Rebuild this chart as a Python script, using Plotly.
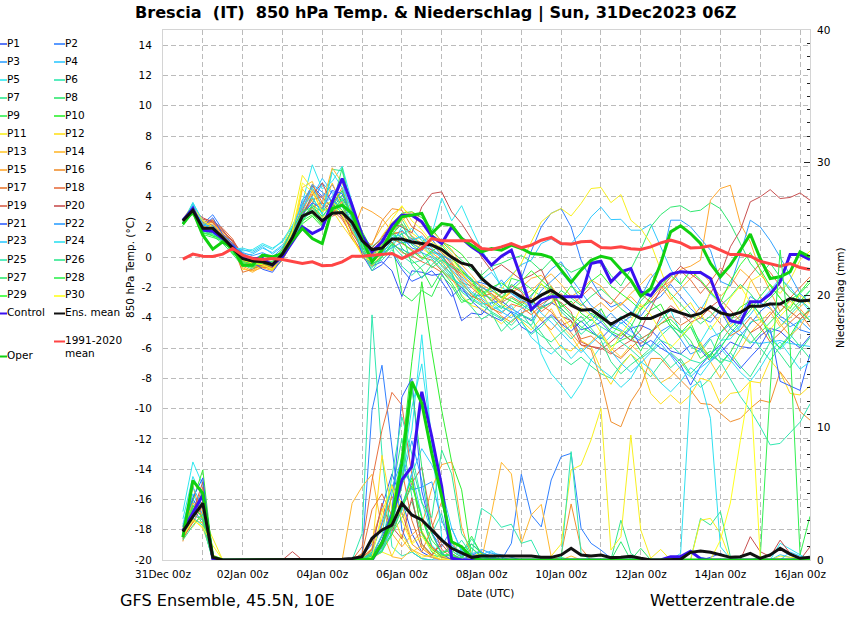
import pandas as pd
import plotly.graph_objects as go

# 6-hourly steps from 31Dec 12z to 16Jan 06z
times = pd.date_range("2023-12-31 12:00", periods=64, freq="6h")

ens_t = [2.4,3.1,1.9,1.9,1.3,0.6,-0.1,-0.25,-0.3,-0.5,
    0.2,1.3,2.7,3.0,2.4,2.9,2.95,2.3,1.1,0.5,
    0.6,1.2,1.2,1.0,0.9,0.8,0.5,0.0,-0.4,-0.55,
    -1.4,-1.96,-2.29,-2.22,-2.62,-2.95,-2.51,-2.18,-2.62,-3.17,
    -3.5,-3.46,-3.94,-4.43,-4.05,-3.72,-4.05,-4.05,-3.77,-3.46,
    -3.68,-3.9,-3.72,-3.28,-3.68,-3.83,-3.65,-3.24,-3.24,-3.1,
    -3.1,-2.73,-2.9,-2.84]
control_t = [2.44,3.21,1.78,1.71,1.23,0.68,0.02,-0.09,-0.09,-0.53,
    0.02,1.01,2.0,1.56,1.89,3.65,5.19,3.43,1.45,0.35,
    1.01,2.11,2.77,2.77,2.33,1.38,0.9,2.0,1.23,0.68,
    0.24,-0.53,0.06,0.46,-1.41,-3.46,-2.84,-2.62,-2.62,-2.67,
    -2.62,-0.42,-0.27,-1.63,-0.97,-0.75,-2.29,-2.55,-1.63,-1.12,
    -0.97,-1.01,-1.01,-1.41,-3.17,-4.2,-4.34,-2.95,-2.95,-2.45,
    -1.63,0.17,0.17,-0.16]
oper_t = [2.18,3.03,1.45,0.53,1.01,0.57,-0.53,-0.53,0.13,0.02,
    0.24,1.12,1.89,1.23,0.9,3.21,3.43,2.88,1.23,-0.31,
    0.46,1.78,2.66,2.77,2.88,1.56,2.22,2.11,1.23,0.79,
    0.35,0.57,0.46,0.79,0.57,0.24,0.17,-0.02,-0.86,-1.67,
    -0.86,-0.2,0.06,-0.09,-0.82,-1.52,-2.58,-2.07,-0.42,1.67,
    2.07,1.56,0.9,-0.42,-1.3,-0.53,0.46,1.52,-0.09,-1.41,
    -1.3,-0.97,0.35,0.02]
clim_t = [-0.13,0.2,0.06,0.04,0.2,0.57,0.13,-0.09,-0.16,-0.09,
    -0.16,-0.31,-0.42,-0.31,-0.57,-0.53,-0.31,0.06,0.06,0.13,
    0.2,0.24,-0.09,0.24,0.57,1.23,1.08,1.08,1.08,1.08,
    0.57,0.5,0.68,0.9,0.63,0.79,1.12,1.3,0.9,0.86,
    1.01,1.05,0.63,0.61,0.68,0.55,0.5,0.68,0.94,1.12,
    0.94,0.61,0.63,0.75,0.46,0.17,0.17,0.06,-0.27,-0.46,
    -0.6,-0.42,-0.68,-0.82]

ens_p = [2.14,3.27,4.28,0.2,0,0,0,0,0,0,
    0,0,0,0,0,0,0.05,0.12,0.25,1.64,
    2.27,2.64,4.28,3.4,3.02,2.27,1.5,0.88,0.55,0.2,
    0.3,0.3,0.3,0.3,0.3,0.3,0.2,0.2,0.38,0.88,
    0.38,0.3,0.38,0.18,0.2,0.28,0.13,0,0,0.05,
    0.05,0.58,0.68,0.58,0.38,0.2,0.25,0.5,0.13,0.38,
    0.88,0.45,0.13,0.2]
control_p = [2.2,3.6,4.9,0.1,0,0,0,0,0,0,
    0,0,0,0,0,0,0,0,0,0,
    1.26,3.27,6.04,7.05,12.7,9.31,5.54,0.13,0,0,
    0,0,0,0,0,0,0,0,0,0,
    0,0,0,0,0,0,0,0,0,0.25,
    0.25,0.65,0.1,0,0,0,0,0,0,0,
    0,0,0,0]
oper_p = [1.71,5.99,5.03,0.25,0,0,0,0,0,0,
    0,0,0,0,0,0,0,0,0,0.05,
    1.26,3.15,7.3,13.46,11.83,8.05,4.78,1.38,1.0,0.2,
    0,0,0,0,0,0,0,0,0,0,
    0,0,0,0,0,0,0,0,0,0,
    0,0,0,0,0,0,0,0,0,0,
    0,0,0,0]

p1_t = [2.3,3.3,1.8,1.9,1.5,0.7,-0.4,-0.5,-0.4,-0.7,
    0.1,1.2,3.1,4.7,4.0,4.8,3.6,2.1,0.5,-0.6,
    -0.3,-0.9,-2.6,-0.9,-1.0,-1.2,-1.1,-2.2,-4.2,-3.7,
    -3.8,-3.0,-2.9,-3.4,-3.8,-4.2,-3.3,-3.0,-3.4,-4.0,
    -4.8,-4.6,-4.3,-5.0,-5.4,-4.7,-4.5,-4.8,-5.5,-6.2,
    -6.4,-5.8,-6.1,-6.9,-6.3,-5.6,-5.9,-6.0,-5.2,-4.7,
    -4.9,-5.5,-6.0,-5.2]
p2_t = [2.5,3.0,2.2,2.8,1.8,0.8,0.0,-0.4,-0.2,-0.4,
    0.4,1.6,3.8,4.5,3.9,3.3,4.4,2.6,0.9,0.3,
    0.6,1.8,1.3,0.6,0.4,1.2,0.3,-0.4,-1.0,-1.6,
    -1.7,-1.9,-2.4,-2.0,-1.4,0.4,2.0,2.9,3.2,2.0,
    -0.2,-1.5,-2.6,-3.3,-3.0,-3.6,-3.9,-3.0,-2.6,-1.8,
    -2.6,-3.4,-4.0,-4.3,-3.5,-4.7,-5.2,-4.4,-3.6,-3.0,
    -3.9,-4.3,-4.8,-5.0]
p3_t = [2.4,3.4,2.0,2.1,1.4,0.9,0.3,-0.2,0.2,-0.2,
    0.5,1.8,3.0,3.5,4.9,4.2,3.4,2.7,1.0,0.0,
    0.1,0.8,0.5,0.2,0.3,0.0,-0.5,-1.1,-2.2,-2.6,
    -2.5,-2.7,-3.3,-3.6,-3.9,-2.6,-1.6,-0.8,-0.3,-1.4,
    -2.3,-3.2,-3.7,-4.4,-4.8,-5.2,-5.5,-5.9,-4.9,-4.5,
    -5.4,-6.4,-6.1,-5.3,-5.0,-4.4,-3.9,-2.6,-3.0,-3.4,
    -4.1,-4.6,-4.2,-4.8]
p4_t = [2.2,3.2,1.9,2.0,1.1,0.4,0.1,0.2,0.6,0.3,
    0.8,1.7,2.9,4.0,5.2,4.3,3.9,3.0,0.9,0.2,
    0.9,1.5,0.9,1.2,1.3,0.4,0.0,-0.6,-1.3,-1.8,
    -1.5,-1.0,-1.9,-1.2,-0.5,-0.2,0.9,1.2,0.8,0.9,
    1.6,2.66,3.3,2.48,2.5,1.78,1.78,2.18,0.68,-0.8,
    -1.8,-2.6,-3.5,-2.4,-3.1,-4.0,-4.9,-5.6,-5.7,-5.6,
    -5.5,-5.7,-5.8,-5.9]
p5_t = [2.3,3.6,2.3,1.7,1.2,0.7,0.4,0.5,0.9,0.6,
    1.0,2.0,3.6,6.1,4.5,5.0,6.0,3.6,0.6,0.1,
    0.4,0.8,2.0,1.4,0.8,1.5,3.9,2.4,3.4,1.9,
    0.5,-0.6,-2.0,-2.4,-2.9,-3.5,-6.36,-7.7,-8.45,-9.33,
    -8.34,-6.8,-5.9,-5.2,-4.3,-4.9,-5.4,-5.0,-4.2,-3.5,
    -5.0,-4.6,-5.6,-4.5,-5.5,-5.4,-4.6,-3.0,-3.8,-5.0,
    -6.1,-5.4,-4.2,-3.9]
p6_t = [2.2,3.1,1.6,1.6,1.2,0.4,-0.2,-0.5,-0.6,-0.8,
    0.0,1.3,2.4,3.2,2.6,3.6,2.9,1.8,0.4,-0.7,
    0.1,0.8,0.1,-0.4,-0.2,0.3,0.2,-0.9,-1.7,-1.9,
    -2.3,-3.5,-3.2,-3.7,-4.1,-4.5,-3.3,-2.6,-3.6,-4.2,
    -5.1,-4.5,-3.8,-4.6,-3.9,-4.4,-5.2,-6.0,-5.2,-4.6,
    -4.9,-5.9,-6.3,-5.4,-6.7,-6.9,-5.6,-4.3,-4.1,-5.0,
    -4.6,-3.8,-3.1,-2.2]
p7_t = [2.3,3.3,1.9,1.5,1.0,0.5,-0.5,-0.8,-0.4,-0.6,
    0.2,1.5,2.9,3.9,2.9,5.8,5.7,3.2,1.0,0.2,
    0.8,1.4,2.5,1.3,0.8,0.1,-0.3,-1.2,-2.3,-2.8,
    -3.2,-3.6,-4.0,-4.5,-3.8,-4.1,-5.0,-5.9,-6.6,-7.1,
    -6.6,-7.2,-7.7,-8.0,-7.1,-6.4,-7.3,-7.9,-7.0,-6.3,
    -6.9,-7.8,-8.6,-8.0,-7.1,-6.3,-7.2,-7.9,-6.8,-5.6,
    -6.4,-7.3,-6.2,-5.3]
p8_t = [2.1,3.0,1.7,1.7,1.3,0.5,0.0,-0.3,-0.1,-0.5,
    0.4,1.7,2.6,3.4,3.0,3.8,3.1,2.4,1.4,0.7,
    1.2,1.9,0.6,0.0,1.0,1.5,1.0,0.4,-0.2,-0.8,
    -1.2,-0.6,-0.4,-0.1,0.1,-0.3,-0.9,-0.2,-0.5,-1.0,
    -0.7,-0.3,-0.2,-1.2,-1.9,-0.8,0.5,2.0,2.8,3.3,
    3.4,3.0,3.1,3.6,3.2,2.2,0.9,-0.4,-1.2,-0.4,
    -1.3,-2.2,-2.8,-3.4]
p9_t = [2.3,3.2,2.0,1.9,1.4,0.6,-0.2,-0.6,-0.3,-0.7,
    0.3,1.4,2.7,2.9,2.1,2.9,3.5,2.8,1.2,-0.2,
    0.3,1.0,-2.4,-2.9,-2.2,-2.6,-1.2,-1.9,-3.0,-2.7,
    -1.9,-2.5,-3.1,-1.4,-1.6,-2.1,-2.6,-1.9,-3.4,-4.0,
    -4.6,-5.0,-5.3,-5.9,-5.5,-5.2,-6.2,-4.9,-4.4,-4.1,
    -4.8,-5.5,-6.7,-6.2,-7.0,-6.3,-5.1,-5.7,-5.0,-4.3,
    -3.6,-2.8,-2.4,-1.7]
p10_t = [2.4,2.8,1.8,1.6,1.2,0.3,-0.3,-0.7,-0.6,-0.8,
    -0.2,1.0,2.2,2.7,2.0,3.2,4.1,3.4,1.7,0.5,
    1.0,2.2,2.9,3.0,2.6,1.9,1.0,0.7,0.2,-0.6,
    -1.2,-2.2,-2.6,-2.9,-3.2,-2.5,-1.8,-2.2,-3.3,-2.9,
    -3.7,-4.2,-3.4,-4.6,-4.9,-5.5,-4.2,-3.5,-3.1,-4.4,
    -5.0,-4.3,-5.8,-6.6,-5.0,-4.2,-3.3,-2.9,-3.8,-5.4,
    -6.0,-5.2,-4.1,-3.4]
p11_t = [2.5,3.5,2.3,1.9,1.5,0.9,-0.4,-0.6,-0.7,-0.3,
    0.6,2.4,5.4,4.5,3.4,3.7,3.0,2.0,0.8,0.1,
    1.4,2.3,2.7,1.6,1.1,0.7,0.4,-0.3,-1.2,-1.7,
    -2.3,-2.8,-2.1,-1.3,-0.4,1.0,2.33,2.88,3.21,2.72,
    3.54,4.53,4.6,3.6,4.13,2.44,1.89,0.9,-0.8,-2.6,
    -3.6,-3.0,-4.1,-2.2,-3.2,-4.6,-3.8,-1.6,-1.2,-1.8,
    -2.4,-1.5,-0.2,0.4]
p12_t = [2.2,3.2,1.9,2.4,1.1,0.6,-0.8,-0.9,-0.5,-0.9,
    0.1,1.1,4.5,3.7,2.6,3.1,2.1,1.2,0.2,-0.4,
    0.4,1.7,1.5,0.9,0.6,0.1,-0.5,-1.4,-2.5,-3.2,
    -3.4,-3.9,-4.4,-3.8,-4.2,-4.8,-4.0,-5.0,-6.0,-6.2,
    -5.5,-5.9,-7.4,-8.4,-7.2,-6.4,-7.0,-9.0,-9.7,-9.1,
    -9.7,-9.1,-8.0,-8.2,-9.7,-9.0,-8.9,-8.2,-8.3,-6.8,
    -7.6,-9.0,-9.1,-8.5]
p13_t = [2.4,3.0,2.1,2.3,1.6,0.8,-0.5,-0.7,-0.4,-0.6,
    0.3,1.6,4.6,5.0,3.1,4.9,3.4,1.7,0.7,0.9,
    2.0,2.8,3.3,2.7,2.2,1.4,0.9,0.2,-0.8,-1.5,
    -1.9,-2.6,-3.1,-3.5,-2.9,-3.3,-4.2,-3.4,-4.5,-5.2,
    -6.2,-5.6,-4.9,-6.0,-6.6,-5.8,-6.4,-7.6,-8.3,-7.9,
    -7.2,-6.8,-5.6,-6.9,-8.0,-7.0,-6.1,-5.0,-4.3,-3.6,
    -4.6,-4.0,-3.3,-2.7]
p14_t = [2.3,3.1,2.0,2.2,1.4,0.5,-0.7,-1.0,-0.6,-0.8,
    0.0,1.4,3.3,4.2,3.5,5.9,4.9,2.9,0.0,-0.6,
    0.2,1.9,2.4,3.0,2.3,1.7,1.1,0.5,-0.5,-1.2,
    -2.0,-2.4,-2.9,-2.3,-2.6,-2.2,-1.6,-1.1,-1.8,-2.6,
    -2.2,-1.5,-1.9,-2.7,-3.2,-2.4,-1.8,-1.1,-1.9,-2.8,
    -2.1,-1.4,-0.9,-1.7,-2.6,-1.9,-0.8,-1.4,-2.6,-3.3,
    -4.4,-5.2,-4.6,-3.5]
p15_t = [2.4,3.2,2.2,2.5,1.7,1.0,-0.6,-0.9,-0.7,-0.9,
    -0.2,1.0,2.6,3.3,2.2,2.8,3.7,1.5,3.32,2.99,
    2.55,1.7,2.2,1.4,0.9,0.3,-0.2,-0.9,-1.8,-2.4,
    -1.8,-2.2,-2.7,-2.3,-2.0,-1.4,-1.2,-1.9,-2.8,-2.5,
    -3.1,-3.5,-3.0,-3.6,-3.1,-2.6,-3.3,-2.8,-2.0,-1.6,
    -0.8,-0.6,-0.2,3.76,4.53,4.75,2.22,1.0,-0.9,-2.2,
    -3.6,-2.9,-3.4,-4.2]
p16_t = [2.3,3.0,2.4,2.3,1.5,1.1,-0.2,-0.6,-0.4,-0.7,
    0.4,1.8,3.0,4.4,3.0,3.4,4.6,2.4,1.0,0.8,
    2.4,3.2,3.1,2.0,1.6,0.8,0.3,-0.5,-1.6,-2.5,
    -3.0,-3.3,-3.9,-4.3,-3.7,-3.4,-4.2,-4.8,-4.1,-5.0,
    -5.8,-6.1,-8.1,-10.87,-11.2,-9.55,-8.56,-6.69,-6.69,-7.46,
    -8.12,-8.78,-9.66,-9.73,-10.32,-10.87,-10.65,-9.99,-9.44,-9.6,
    -7.57,-8.45,-10.2,-10.76]
p17_t = [2.4,3.1,2.3,2.1,1.4,0.8,-1.0,-0.8,-0.5,-0.7,
    0.3,1.4,3.4,4.8,3.6,3.1,2.5,1.4,0.3,-0.2,
    0.5,1.2,0.9,0.5,0.0,-0.2,-0.9,-1.5,-2.0,-2.6,
    -2.8,-3.4,-3.7,-3.1,-3.3,-3.8,-3.2,-3.6,-4.5,-4.2,
    -5.4,-5.2,-5.8,-6.3,-6.7,-6.0,-5.4,-5.0,-4.4,-3.9,
    -4.5,-4.1,-3.3,-3.6,-4.4,-5.2,-4.8,-4.0,-4.6,-5.6,
    -5.0,-4.3,-3.7,-4.6]
p18_t = [2.5,3.2,2.1,2.4,1.9,1.2,0.0,-0.5,-0.7,-0.6,
    0.1,1.2,2.8,3.8,4.0,3.2,2.7,1.2,0.4,0.2,
    0.7,1.0,0.3,0.1,-0.3,-0.6,-1.0,-0.4,-1.4,-2.0,
    -2.6,-2.4,-3.0,-2.6,-3.0,-2.7,-3.6,-3.1,-2.4,-3.2,
    -2.6,-2.0,-2.7,-3.1,-2.3,-1.6,-2.4,-3.0,-2.3,-1.7,
    -0.9,-1.5,-2.4,-1.6,-0.7,-1.3,-2.1,-1.2,-0.4,-1.0,
    -1.9,-2.7,-2.0,-1.3]
p19_t = [2.3,3.0,2.5,2.4,1.8,1.0,0.1,-0.4,-0.3,-0.5,
    0.2,1.3,2.5,3.3,3.6,2.7,3.0,1.6,0.6,0.4,
    1.0,1.5,1.7,1.2,0.7,0.5,0.1,-0.7,-1.1,-1.8,
    -2.2,-2.9,-2.4,-1.9,-2.3,-3.4,-3.1,-2.7,-3.0,-3.6,
    -5.6,-5.9,-6.0,-6.4,-5.9,-5.5,-5.7,-5.2,-3.9,-3.2,
    -3.7,-4.3,-4.0,-3.3,-2.8,-3.5,-4.2,-5.0,-4.6,-3.8,
    -3.1,-3.6,-4.1,-3.5]
p20_t = [2.4,3.1,2.6,2.3,1.7,1.1,0.2,-0.6,-0.5,-0.4,
    0.3,1.4,2.7,4.1,4.9,3.5,2.6,2.0,1.0,0.6,
    1.3,2.2,2.0,1.6,3.32,4.2,4.31,2.99,2.22,1.2,
    0.0,-0.9,-0.5,-1.0,-1.5,-1.2,-0.8,-2.3,-3.9,-4.2,
    -5.8,-5.9,-6.1,-5.6,-5.0,-5.5,-4.8,-3.4,-2.1,-1.3,
    -0.6,-1.1,-1.6,-2.4,-1.2,0.68,1.78,3.65,3.98,4.46,
    3.87,3.94,4.24,3.76]
p21_t = [2.3,3.3,2.0,2.6,1.5,0.9,0.2,-0.3,-0.8,-1.0,
    -0.1,1.1,2.8,3.6,3.2,4.4,4.2,2.5,0.2,-0.9,
    -0.5,0.3,-0.8,-1.6,-1.3,-0.9,-1.6,-2.6,-2.0,-2.9,
    -3.5,-3.9,-4.2,-3.6,-4.6,-5.0,-4.4,-3.8,-4.4,-4.9,
    -4.2,-4.9,-5.4,-4.7,-4.1,-4.7,-5.9,-5.5,-6.0,-6.4,
    -7.1,-8.45,-7.2,-6.4,-5.8,-6.6,-7.35,-6.6,-5.9,-4.7,
    -8.2,-8.5,-8.8,-6.4]
p22_t = [2.4,3.4,2.1,2.1,1.3,0.8,0.3,0.1,0.3,0.0,
    0.6,1.9,3.5,4.8,4.3,3.7,3.3,2.9,0.7,0.0,
    0.3,0.6,1.0,0.9,0.5,0.9,0.1,-0.2,-0.7,-1.5,
    -2.0,-2.3,-1.5,-2.4,-2.8,-3.2,-2.2,-1.6,-1.0,-1.8,
    -2.9,-3.8,-4.3,-3.7,-4.4,-3.9,-2.6,-1.4,-0.6,2.44,
    2.44,2.0,1.23,0.46,-1.6,-1.9,0.2,2.44,2.0,1.1,
    0.0,-1.2,-2.4,-3.0]
p23_t = [2.2,3.5,2.2,1.8,1.1,0.6,0.5,0.3,0.7,0.2,
    0.7,1.5,3.2,4.6,3.4,4.0,5.1,2.3,0.4,-0.1,
    0.2,1.1,1.8,1.1,1.4,0.6,-0.1,-0.8,-1.5,-2.3,
    -2.7,-3.2,-3.6,-4.0,-3.4,-3.0,-3.7,-4.3,-5.0,-5.7,
    -6.3,-5.7,-5.1,-6.2,-7.0,-7.6,-7.0,-6.3,-5.7,-6.5,
    -7.4,-7.9,-7.3,-6.8,-5.9,-5.1,-4.5,-3.8,-2.9,-2.2,
    -1.4,-2.0,-2.8,-3.6]
p24_t = [2.3,3.6,2.4,1.6,1.0,0.5,0.6,0.4,0.8,0.5,
    1.1,2.1,3.4,4.0,2.8,5.6,4.6,3.1,0.8,0.3,
    0.7,1.3,1.5,1.9,1.1,0.2,-0.6,-1.3,-1.9,-2.7,
    -3.1,-3.0,-3.6,-3.2,-4.2,-5.3,-5.9,-6.4,-5.8,-6.7,
    -6.0,-6.8,-7.4,-7.9,-8.6,-8.0,-6.9,-7.4,-8.3,-8.9,
    -8.2,-7.3,-7.8,-6.9,-6.0,-6.8,-7.6,-8.2,-7.3,-6.2,
    -5.6,-6.5,-7.4,-6.9]
p25_t = [2.2,3.1,1.7,1.8,1.0,0.4,0.0,-0.2,-0.1,-0.6,
    0.1,1.3,2.5,3.0,3.2,3.0,3.8,2.2,0.9,-0.4,
    -0.2,0.5,-0.6,-1.2,-0.6,-0.1,-0.8,-1.4,-1.8,-2.4,
    -2.9,-3.7,-4.1,-4.8,-4.3,-5.1,-4.6,-3.9,-4.7,-5.4,
    -4.7,-4.1,-4.6,-5.0,-5.6,-6.1,-6.7,-6.2,-5.5,-5.8,
    -6.4,-6.8,-7.0,-6.5,-6.9,-8.1,-9.2,-10.1,-11.2,-12.4,
    -12.3,-11.6,-10.9,-9.7]
p26_t = [2.1,3.0,1.6,1.5,1.1,0.3,-0.4,-0.7,-0.2,-0.4,
    0.2,1.1,2.3,3.5,2.4,2.8,3.4,2.0,0.6,-0.9,
    0.0,0.7,1.6,-0.5,-1.4,-0.5,0.1,-1.0,-2.6,-3.3,
    -4.1,-3.7,-4.9,-4.2,-3.7,-4.6,-5.2,-5.6,-5.0,-4.5,
    -3.9,-4.7,-5.5,-6.9,-7.7,-7.1,-6.6,-6.0,-6.5,-7.3,
    -6.7,-7.7,-7.0,-6.4,-5.6,-4.7,-4.1,-5.0,-6.0,-6.8,
    -5.9,-5.1,-5.9,-6.7]
p27_t = [2.3,3.2,1.8,1.4,0.9,0.2,-0.6,-0.6,-0.3,-0.5,
    0.3,1.6,2.8,3.1,2.3,3.3,5.9,3.0,1.3,0.2,
    0.5,1.5,2.2,0.8,0.3,-0.7,-0.2,-0.6,-1.0,-1.4,
    -2.4,-2.0,-2.7,-1.8,-2.2,-2.9,-3.4,-3.0,-2.2,-2.7,
    -3.2,-2.6,-2.1,-2.7,-3.4,-3.9,-2.9,-2.2,-1.7,-2.4,
    -3.1,-3.8,-4.4,-3.9,-3.2,-2.6,-1.8,-2.4,-3.3,-2.7,
    -2.0,-2.7,-3.6,-4.2]
p28_t = [2.2,3.1,1.5,1.3,1.1,0.4,-0.3,-0.4,-0.2,-0.3,
    0.5,1.9,3.0,3.3,2.7,3.5,4.4,2.6,0.7,-0.5,
    0.0,0.9,0.4,-0.2,-0.8,-2.0,-0.9,-1.7,-2.8,-3.1,
    -2.1,-2.9,-3.4,-2.7,-3.1,-3.6,-2.9,-2.4,-3.1,-3.8,
    -4.3,-3.7,-4.1,-4.9,-5.2,-4.6,-3.4,-2.9,-3.6,-4.6,
    -5.3,-4.6,-6.0,-6.7,-6.0,-5.0,-4.3,-3.5,-2.6,-1.8,
    -2.7,-3.6,-2.9,-2.2]
p29_t = [2.1,3.1,1.6,1.4,1.2,0.2,-0.1,-0.5,-0.4,-0.6,
    0.0,1.2,2.4,2.8,2.2,3.0,3.9,2.7,1.5,0.4,
    0.8,1.6,1.0,0.4,-0.1,0.4,0.8,0.0,-0.9,-1.5,
    -2.6,-2.0,-1.7,-2.2,-1.6,-0.9,-1.5,-2.1,-2.8,-1.9,
    -2.5,-1.6,-1.1,-1.9,-2.4,-2.9,-3.5,-2.6,-1.9,-1.2,
    -1.8,-0.9,-1.5,-2.3,-3.0,-1.6,-0.5,0.3,-0.8,-1.9,
    -2.7,-3.4,-2.3,-1.5]
p30_t = [2.4,3.3,2.4,2.0,1.3,0.7,-0.2,-0.4,-0.5,-0.8,
    0.2,1.7,4.9,4.3,3.0,3.4,2.8,1.3,0.1,-0.3,
    0.9,2.5,3.4,2.4,1.8,1.0,0.6,-0.1,-1.0,-1.9,
    -2.5,-3.3,-2.8,-2.2,-2.7,-3.0,-1.7,-2.6,-3.8,-4.7,
    -3.3,-3.9,-5.0,-6.2,-5.1,-4.2,-3.1,-3.8,-4.9,-6.0,
    -5.3,-4.5,-3.7,-4.8,-3.9,-2.7,-1.9,-3.0,-4.2,-4.8,
    -3.9,-3.2,-2.5,-3.1]

p1_p = [2.2,4.6,3.4,0.1,0,0,0,0,0,0,
    0,0,0,0,0,0,0,0,0.3,1.2,
    4.0,6.5,4.5,2.0,0.6,0.2,0,0.1,0.4,0.2,
    0,0.2,0,0,0,0,0,0,0,0,
    0,0,0,0,0,0,0,0,0,0,
    0,0,0,0.2,0.5,0.1,0,0,0,0,
    0,0,0,0]
p2_p = [1.8,3.8,4.8,0,0,0,0,0,0,0,
    0,0,0,0,0,0,0,0,0.4,11.3,
    14.7,8.55,2.3,0.6,0.1,0,0,0,0.8,1.2,
    0.6,0.2,0,1.26,6.47,3.4,2.5,6.04,7.8,8.05,
    2.4,1.26,0.75,0.13,0,0,0,0,0,0,
    0,0,0,0,0,0,0,0,0,0,
    0,0,0,0]
p3_p = [2.0,4.4,3.9,0.2,0,0,0,0,0,0,
    0,0,0,0,0,0,0,0,0,0.5,
    1.2,3.0,6.0,9.0,6.0,2.0,1.0,2.4,0.7,0.3,
    0.8,0.5,0.4,0.2,0,0,0,0,0,0,
    0,0,0,0,0,0,0,0,0,0,
    0,0,0,0,0,0,0,0,0,0,
    0,0,0,0]
p4_p = [2.5,5.0,3.4,0,0,0,0,0,0,0,
    0,0,0,0,0,0,0,0,0,0.2,
    0.6,2.1,4.0,6.6,3.3,1.1,0.4,0.3,0.8,0.2,
    0.1,0.6,0,0,0,0,0,0,0,0,
    0,0,0,0,0,0,0,0,0,0,
    0.1,0.5,0.2,0,0,0,0,0,0,0,
    0.4,0.2,0,0]
p5_p = [3.65,7.4,5.66,0.1,0,0,0,0,0,0,
    0,0,0,0,0,0,0,0,0,0.1,
    0.7,2.6,6.2,9.8,17.0,8.8,1.7,0.3,0,0,
    0.2,0,0,0,0,0,0,0,0,0,
    0,0,0,0,0,0,0,0,0,0,
    0,0,0,0,0,0,0,0,0,0,
    1.26,0.8,0.4,0]
p6_p = [1.6,3.4,3.0,0,0,0,0,0,0,0,
    0,0,0,0,0,0,0,0,2.0,18.5,
    8.0,1.0,0.3,0.6,0.1,0,0.5,1.1,0.6,0.2,
    0,0,0,0,0,0,0,0,0,0,
    0,0,0,0,0,0,0,0,0,0,
    0,0,0,0,0,0,0,0,0,0,
    0,0,0,0]
p7_p = [2.3,4.2,3.1,0,0,0,0,0,0,0,
    0,0,0,0,0,0,0,0,0.1,0.3,
    1.1,5.0,9.2,4.8,1.2,0.4,0.2,0.1,0.2,1.6,
    0.5,0.2,0,0,0,0,0,0,0,0,
    0,0,0,0,3.0,0.5,0,0,0,0,
    0,0,3.14,2.64,3.65,0.25,0,0,0,0,
    0,0,0,0]
p8_p = [1.9,3.3,5.0,0.1,0,0,0,0,0,0,
    0,0,0,0,0,0,0,0,0,0.3,
    0.9,2.0,3.2,4.4,2.0,0.6,0.2,0.4,0,0,
    0.4,0,0,0,0,0,0,0.1,0.2,0,
    0,0,0,0,1.38,0,0.88,0,0,0,
    0,0,0,0,0,0,0,0,0,0,
    0,0,0,0]
p9_p = [2.1,3.9,2.7,0,0,0,0,0,0,0,
    0,0,0,0,0,0,0,0,0.2,0.4,
    1.4,3.4,6.6,5.9,3.2,1.0,0.4,1.0,0.5,1.8,
    0.4,0.3,0,0,0,0,0,0,0,0,
    0,0,0,0,0,0,0,0,0,0,
    0,0,0,0,0,0,0,0,0,0,
    0,0,0,0]
p10_p = [2.6,4.5,6.8,0.2,0,0,0,0,0,0,
    0,0,0,0,0,0,0,0,0,0.2,
    1.5,3.8,8.0,15.0,21.0,15.8,11.3,7.4,5.3,0.25,
    0,0,0,0,0,0,0,0,0,0,
    0,0,0,0,0,0,0,0,0,0,
    0,0,0,0,0,0,0,0,0,0,
    0,0,0,0]
p11_p = [1.8,2.8,3.3,1.7,0,0,0,0,0,0,
    0,0,0,0,0,0,0,0,0,0.1,
    0.6,0.3,1.9,0.8,0.2,0.4,0,0,0.1,0,
    0,0,0,0,0,0,0,0.3,1.2,6.8,
    7.17,9.06,11.45,0.75,1.76,9.43,2.26,0.13,0.8,0,
    0,0,3.0,3.14,2.0,0,0,0,0,0,
    0.3,0.2,0.1,0]
p12_p = [1.5,3.1,2.4,0.3,0,0,0,0,0,0,
    0,0,0,0,0,0,0,0,0.2,0.9,
    7.9,3.8,1.6,0.6,1.1,0.3,0,0,0,0.3,
    0.5,0.1,0,0,0,0,0,0,0,0,
    0,0,0,0,0,0,0,0,0,0,
    0,0,0,0,0,0,0,0,0,0,
    0,0,0,0]
p13_p = [2.0,2.5,3.6,0.4,0,0,0,0,0,0,
    0,0,0,0,0,0,0,0,0.1,0.7,
    3.1,5.7,4.2,1.3,2.2,0.9,0.3,0.1,0,0,
    0,0,0,0,0,0,0,0,0,0,
    0,0,0,0,0,0,0,0,0,0,
    0,0,0,0,0,0,0,0,0,0,
    0,0,0,0]
p14_p = [1.7,3.0,2.8,0,0,0,0,0,0,0,
    0,0,0,0,0,0,0,4.28,5.53,6.47,
    2.3,0.25,0.1,0.8,0.4,0.2,0,0,0,0,
    0,3.5,7.37,6.5,1.26,3.4,4.2,0.25,0,0.3,
    0,0,0,0,0,0,0,0,0,0,
    0,0,0,0,0,0,0,0,0,0,
    0,0,0,0]
p15_p = [2.4,4.3,3.7,0.1,0,0,0,0,0,0,
    0,0,0,0,0,0,0,0,0.4,1.6,
    3.9,2.0,1.0,1.9,2.6,5.4,7.2,7.4,2.5,0.3,
    0,0,0,0,0,0,0,0,0,0,
    0,0,0,0,0,0,0,0,0,0,
    0,0,0,0,0,0,0,0,0,0,
    0,0,0,0]
p16_p = [1.4,5.6,2.9,0,0,0,0,0,0,0,
    0,0,0,0,0,0,0,0,0,0.8,
    2.6,4.8,3.6,1.2,0.6,2.4,4.4,1.4,0.2,0,
    0,0,0,0,0,0,0,0,0.4,4.23,
    0.88,0,0,0,0,0,0,0,0,0,
    0,0,0,0,0,0,0,0,0,0,
    0,0,0,0]
p17_p = [1.9,4.0,4.4,0.1,0,0,0,0,0,0,
    0,0,0,0,0,0,0,0,0.5,3.8,
    5.0,3.3,6.8,3.0,0.9,0.3,1.5,0.5,0,0,
    0,0,0,0,0,0,0,0,0,0,
    0,0,0,0,0,0,0,0,0,0,
    0,0,0,0,0,0,0,0,0,0,
    0,0,0,0]
p18_p = [2.2,3.5,5.5,0,0,0,0,0,0,0,
    0,0,0,0,0,0,0,0,1.0,6.0,
    9.8,12.65,11.7,6.4,2.0,1.0,0.2,0,0,0,
    0,0,0,0,0,0,0,0,0,0,
    0,0,0,0,0,0,0,0,0,0,
    0,0,0,0,0,0,0,0,0,0,
    0,0,0,0]
p19_p = [1.6,2.9,4.1,0.2,0,0,0,0,0,0,
    0,0,0,0,0,0,0,0,0.2,0.8,
    4.3,2.2,3.9,5.8,7.0,2.8,0.8,0.2,0,0,
    0,0,0,0,0,0,0,0,0,0,
    0,0,0,0,0,0,0,0,0,0,
    0,0,0,0,0,0,0,0,0,0,
    0,0,0,0]
p20_p = [2.0,3.6,5.9,0.1,0,0,0,0,0,0,
    0,0.63,0,0,0,0,0,0,0,0.4,
    1.0,2.5,1.6,4.7,1.2,0.4,1.2,0.3,0,0,
    0,0,0,0,0,0,0,0,0,0,
    0,0,0,0,0,0,0,0,0,0,
    0,0,0,0,0,0,0,1.76,0.63,0.25,
    1.5,0.5,0,1.0]
p21_p = [2.5,4.7,6.2,0,0,0,0,0,0,0,
    0,0,0,0,0,0,0,0,0,0.3,
    1.8,3.6,12.3,13.7,5.2,2.1,0.5,0,0,0.4,
    0.3,0.1,0,0,0,0,0,0,0,0,
    0,0,0,0,0,0,0,0,0,0,
    0,0,0,0,0,0,0,0,0,0,
    0,0,0,0]
p22_p = [1.9,3.7,3.0,0,0,0,0,0,0,0,
    0,0,0,0,0,0,0,0,0,0.6,
    2.8,5.4,7.6,5.3,5.5,5.9,3.0,1.2,0.3,0.5,
    0.6,0.2,0,0,0,0,0,0,0,0,
    0,0,0,0,0,0,0,0,0,0,
    0,0,0,0,0,0,0,0,0,0,
    0,0,0,0]
p23_p = [2.7,5.5,4.0,0.1,0,0,0,0,0,0,
    0,0,0,0,0,0,0,0,0,0.1,
    0.8,2.4,3.7,6.5,8.4,7.2,5.4,2.4,0.6,0.2,
    0.4,0.7,0.2,0,0,0,0,0,0,0,
    0,0,0,0,0,0,0,0,0,0,
    0,0,0,0,0,0,0,0,0,0,
    0,0.6,0.3,0]
p24_p = [3.1,6.3,4.7,0,0,0,0,0,0,0,
    0,0,0,0,0,0,0,0,0,0.2,
    1.3,3.1,6.4,11.5,14.8,9.0,4.5,1.0,0.2,0,
    0,0,0,0,0,0,0,0,0,0,
    0,0,0,0,0,0,0,0,0,0,
    0.5,13.0,13.5,10.7,1.0,0.1,0,0,0,0,
    0,0,0,0]
p25_p = [2.2,3.2,2.6,0,0,0,0,0,0,0,
    0,0,0,0,0,0,0,0,0,0.4,
    1.9,6.3,10.8,8.0,4.4,2.0,3.5,0.5,1.5,0.4,
    3.9,3.4,2.47,2.7,1.26,1.5,0,0,0,8.18,
    0.5,0,0,0,0,0,0,0,0,0,
    0,0,0,0,0,0,0,0,0,0,
    0,0,0,0]
p26_p = [1.5,2.6,3.5,0,0,0,0,0,0,0,
    0,0,0,0,0,0,0,0,0,0.2,
    0.6,2.9,5.7,7.2,4.3,3.2,8.3,6.5,2.0,0.9,
    0.2,0,0,0,0,0,0,0,0,0,
    0,0,0,0,0,0,0,0,0,0,
    0,0,0,0,0,0,0,0,0,0,
    0,0,0,0]
p27_p = [1.7,3.9,4.3,0,0,0,0,0,0,0,
    0,0,0,0,0,0,0,0,0.1,0.6,
    1.0,2.7,5.6,13.0,7.0,2.0,0.4,0.3,0.1,0.9,
    0.3,0,0,0,0,0,0,0,0,0,
    0,0,0,0,0,0,0,0,0,0,
    0,0,0,0,0,0,0,0,0,0,
    0,0,0,0]
p28_p = [2.4,3.4,5.2,0,0,0,0,0,0,0,
    0,0,0,0,0,0,0,0,0,0.2,
    0.7,1.9,3.9,5.6,3.2,1.5,0.6,0.7,0.2,1.2,
    0.5,0,0,0,0,0,0,0,0,0,
    0,0,0,0,0,0,0,0,0,0,
    0,0,0,0,0,0,0,0,0.2,12.9,
    23.4,16.2,0.4,3.3]
p29_p = [2.0,4.1,3.2,0,0,0,0,0,0,0,
    0,0,0,0,0,0,0,0,0,0.3,
    1.4,2.4,4.1,6.2,2.1,0.8,0.3,0.5,0,0,
    0,0,0,0,0,0,0,0,0,0,
    0,0,0,0,0,0,0,0,0,0,
    0,0,0,0,0,0,0,0,0,0,
    0,0,0,0]
p30_p = [1.8,3.0,2.5,1.1,0,0,0,0,0,0,
    0,0,0,0,0,0,0,0,0,0.2,
    3.6,5.6,3.0,1.2,1.8,0.7,0.1,0,0,0,
    0,0,0,0,0,0,0,0,0,0,
    0,0,0,0,0,0,0,0,0,0,
    0,0,0,0,1.5,4.3,9.0,13.5,0.25,0,
    0,0,0,0]

member_t = [p1_t,p2_t,p3_t,p4_t,p5_t,p6_t,p7_t,p8_t,p9_t,p10_t,p11_t,p12_t,p13_t,p14_t,p15_t,
    p16_t,p17_t,p18_t,p19_t,p20_t,p21_t,p22_t,p23_t,p24_t,p25_t,p26_t,p27_t,p28_t,p29_t,p30_t]
member_p = [p1_p,p2_p,p3_p,p4_p,p5_p,p6_p,p7_p,p8_p,p9_p,p10_p,p11_p,p12_p,p13_p,p14_p,p15_p,
    p16_p,p17_p,p18_p,p19_p,p20_p,p21_p,p22_p,p23_p,p24_p,p25_p,p26_p,p27_p,p28_p,p29_p,p30_p]
member_names = ["P%d" % n for n in range(1, 31)]
member_colors = ["#2f55f5","#3080ff","#30a0ff","#30c8ff","#30e8f0","#30e8b0","#30e890","#30e870","#30f050","#30f030",
    "#f8f020","#ffe020","#ffc830","#ffb830","#ffa830","#f09030","#e87830","#e87040","#d86048","#c85050",
    "#3060ff","#30a0ff","#30c8ff","#30e0f0","#30e8b0","#30e890","#30e870","#30f050","#30ff30","#ffff20"]

temp_ticks = [-20,-18,-16,-14,-12,-10,-8,-6,-4,-2,0,2,4,6,8,10,12,14]
rain_ticks = [0,10,20,30,40]

FONT = "DejaVu Sans"
W, H = 850, 620
L, R, T, B = 163, 810, 30, 560

def px(x):
    return (x - L) / (R - L)

def py(y):
    return 1 - (y - T) / (B - T)

fig = go.Figure()

for vals, name, col in zip(member_t, member_names, member_colors):
    fig.add_trace(go.Scatter(x=times, y=vals, mode="lines", name=name, showlegend=False,
        line=dict(color=col, width=1), hoverinfo="skip"))
for vals, name, col in zip(member_p, member_names, member_colors):
    fig.add_trace(go.Scatter(x=times, y=vals, mode="lines", name=name, yaxis="y2", showlegend=False,
        line=dict(color=col, width=1), hoverinfo="skip"))

# thick lines on top
for vals, name, col, ax in [
    (control_t, "Control", "#3a10f0", "y"),
    (oper_t, "Oper", "#10d010", "y"),
    (ens_t, "Ens. mean", "#111111", "y"),
    (clim_t, "1991-2020 mean", "#ff4545", "y"),
    (control_p, "Control", "#3a10f0", "y2"),
    (oper_p, "Oper", "#10d010", "y2"),
    (ens_p, "Ens. mean", "#111111", "y2"),
]:
    fig.add_trace(go.Scatter(x=times, y=vals, mode="lines", name=name, yaxis=ax, showlegend=False,
        line=dict(color=col, width=3), hoverinfo="skip"))

# hand-placed two column key, same spots as the original
shapes = []
notes = []

def key(x0, x1, y, text, col, width=1.6):
    shapes.append(dict(type="line", xref="paper", yref="paper", x0=px(x0), x1=px(x1), y0=py(y + 1.5), y1=py(y + 1.5),
        line=dict(color=col, width=width)))
    # annotations carry about 2px of padding
    notes.append(dict(xref="paper", yref="paper", x=px(x1 - 1.7), y=py(y), xanchor="left", yanchor="middle",
        text=text, showarrow=False, font=dict(family=FONT, size=10.5, color="black"), align="left"))

for n, (name, col) in enumerate(zip(member_names, member_colors)):
    row = n // 2
    if n % 2 == 0:
        key(0, 7, 42.5 + row * 18, name, col)
    else:
        key(54, 65, 42.5 + row * 18, name, col)
key(0, 7, 312, "Control", "#3a10f0", 2)
key(54, 65, 312, "Ens. mean", "#111111", 2)
key(54, 65, 340, "1991-2020", "#ff4545", 2)
notes.append(dict(xref="paper", yref="paper", x=px(63.3), y=py(352.5), xanchor="left", yanchor="middle",
    text="mean", showarrow=False, font=dict(family=FONT, size=10.5, color="black")))
key(0, 7, 355, "Oper", "#10d010", 2)

def label(x, y, text, size, angle=0, weight=None, anchor="center"):
    notes.append(dict(xref="paper", yref="paper", x=px(x), y=py(y), xanchor=anchor, yanchor="middle", text=text,
        textangle=angle, showarrow=False, font=dict(family=FONT, size=size, color="black", weight=weight)))

label(435, 13, "Brescia  (IT)  850 hPa Temp. &amp; Niederschlag | Sun, 31Dec2023 06Z", 16.1, weight="bold")
label(118, 600, "GFS Ensemble, 45.5N, 10E", 16.1, anchor="left")
label(648, 600, "Wetterzentrale.de", 16.1, anchor="left")
label(485, 593, "Date (UTC)", 10.5)
label(130, 268, "850 hPa Temp. (°C)", 10.5, angle=-90)
label(840, 297, "Niederschlag (mm)", 10.5, angle=-90)

fig.update_layout(
    width=W, height=H,
    margin=dict(l=L, r=W - R, t=T, b=H - B, pad=0),
    paper_bgcolor="white", plot_bgcolor="white",
    showlegend=False,
    shapes=shapes, annotations=notes,
    font=dict(family=FONT, size=10.5, color="black"),
    xaxis=dict(
        range=["2023-12-31 00:00", "2024-01-16 06:00"],
        tick0="2023-12-31", dtick=2 * 86400000, tickformat="%d%b %Hz",
        minor=dict(dtick=86400000, showgrid=True, gridcolor="#bbbbbb", griddash="5px,3px", gridwidth=1),
        showgrid=True, gridcolor="#bbbbbb", griddash="5px,3px", gridwidth=1,
        ticks="outside", ticklen=4, tickcolor="rgba(0,0,0,0)",
        showline=True, linecolor="#d4d4d4", linewidth=1, mirror=True, zeroline=False,
    ),
    yaxis=dict(
        range=[-20, 15],
        tickvals=temp_ticks, ticktext=[str(v) for v in temp_ticks],
        showgrid=True, gridcolor="#bbbbbb", griddash="5px,3px", gridwidth=1,
        ticks="outside", ticklen=8, tickcolor="rgba(0,0,0,0)",
        showline=True, linecolor="#d4d4d4", linewidth=1, zeroline=False,
    ),
    yaxis2=dict(
        range=[0, 40], overlaying="y", side="right",
        tickvals=rain_ticks, ticktext=[str(v) for v in rain_ticks],
        showgrid=False, zeroline=False, ticklabelstandoff=4,
        ticks="inside", ticklen=6, tickcolor="#222222",
        minor=dict(dtick=1, ticks="inside", ticklen=3, tickcolor="#222222"),
        showline=True, linecolor="#d4d4d4", linewidth=1,
    ),
)

# the browser's default body margin would push the figure off the page
fig.write_html("out.html", config=dict(displayModeBar=False), post_script="document.body.style.margin='0';")
